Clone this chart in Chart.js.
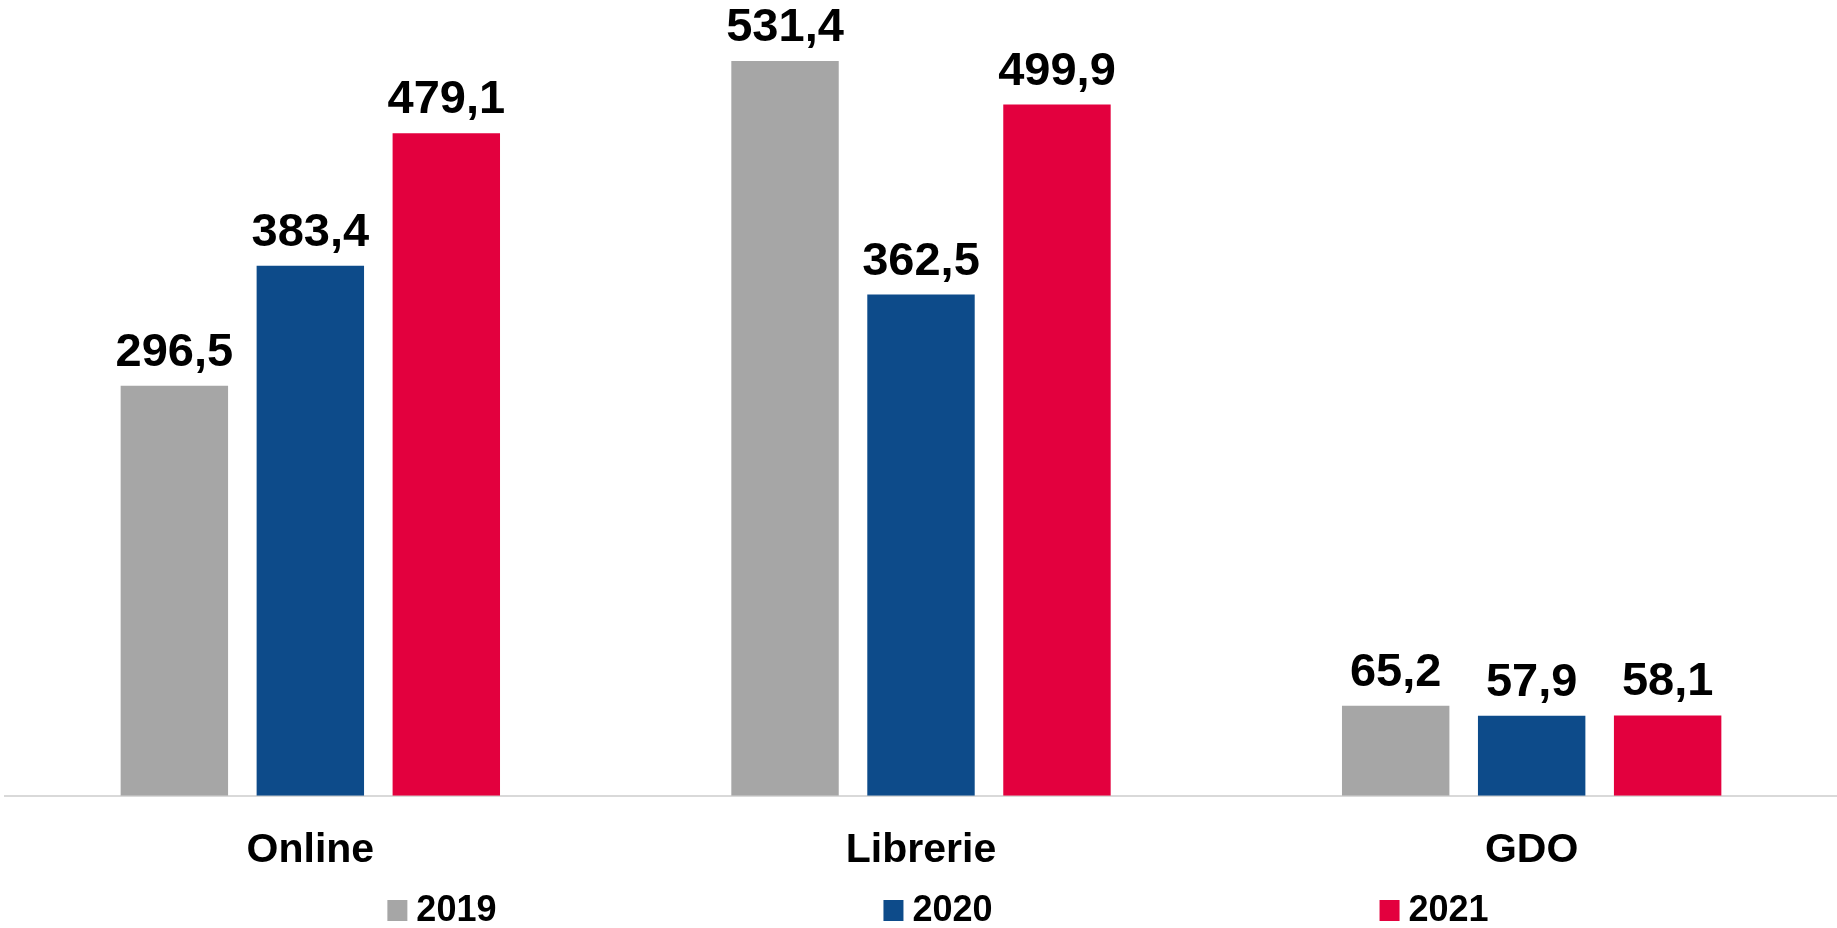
<!DOCTYPE html>
<html>
<head>
<meta charset="utf-8">
<script src="https://cdn.jsdelivr.net/npm/chart.js@4/dist/chart.umd.min.js"></script>
<style>
    html, body { margin: 0; padding: 0; background: #fff; }
    #wrap { width: 1837px; height: 928px; position: relative; }
</style>
</head>
<body>
<div id="wrap"><canvas id="salesChart"></canvas></div>
<script>
// 데이터
const categories = ['Online', 'Librerie', 'GDO'];
const seriesNames = ['2019', '2020', '2021'];
const values2019 = [296.5, 531.4, 65.2];
const values2020 = [383.4, 362.5, 57.9];
const values2021 = [479.1, 499.9, 58.1];
const seriesColors = ['#a6a6a6', '#0d4b8a', '#e3003e'];

const FONT = "'Liberation Sans', Arial, sans-serif";

// 막대 위 값 표시
const valueLabels = {
    id: 'valueLabels',
    afterDatasetsDraw(chart) {
        const ctx = chart.ctx;
        ctx.save();
        ctx.font = 'bold 47px ' + FONT;
        ctx.fillStyle = '#000';
        ctx.textAlign = 'center';
        ctx.textBaseline = 'alphabetic';
        chart.data.datasets.forEach((ds, i) => {
            chart.getDatasetMeta(i).data.forEach((bar, j) => {
                const txt = ds.data[j].toFixed(1).replace('.', ',');
                ctx.fillText(txt, bar.x, bar.y - 20);
            });
        });
        ctx.restore();
    }
};

// 하단 범례
const bottomLegend = {
    id: 'bottomLegend',
    afterDraw(chart) {
        const ctx = chart.ctx;
        ctx.save();
        ctx.font = 'bold 36px ' + FONT;
        ctx.textBaseline = 'alphabetic';
        const box = 20, gap = 9, spacing = 387;
        const items = chart.data.datasets.map(ds => ({
            label: ds.label,
            color: ds.backgroundColor,
            w: box + gap + ctx.measureText(ds.label).width
        }));
        const total = items.reduce((s, it) => s + it.w, 0) + spacing * (items.length - 1);
        let x = 938 - total / 2;
        const baseY = 921;
        items.forEach(it => {
            ctx.fillStyle = it.color;
            ctx.fillRect(x, baseY - 21, box, 21);
            ctx.fillStyle = '#000';
            ctx.fillText(it.label, x + box + gap, baseY);
            x += it.w + spacing;
        });
        ctx.restore();
    }
};

const datasets = [values2019, values2020, values2021].map((vals, i) => ({
    label: seriesNames[i],
    data: vals,
    backgroundColor: seriesColors[i],
    categoryPercentage: 0.668,
    barPercentage: 0.79
}));

new Chart(document.getElementById('salesChart'), {
    type: 'bar',
    data: { labels: categories, datasets: datasets },
    options: {
        responsive: true,
        maintainAspectRatio: false,
        animation: false,
        layout: { padding: { left: 5, right: 0, top: 0, bottom: 23 } },
        plugins: {
            legend: { display: false },
            tooltip: { enabled: false }
        },
        scales: {
            x: {
                grid: { display: false, drawTicks: false },
                border: { display: true, color: '#d9d9d9', width: 2 },
                ticks: {
                    color: '#000',
                    padding: 30,
                    font: { family: FONT, size: 41, weight: 'bold' }
                }
            },
            y: {
                display: false,
                min: 0,
                max: 575.5
            }
        }
    },
    plugins: [valueLabels, bottomLegend]
});
</script>
</body>
</html>
